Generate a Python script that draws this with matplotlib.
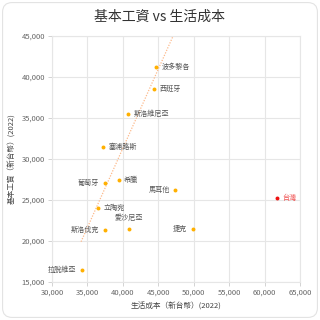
import matplotlib
matplotlib.use('Agg')
import matplotlib.pyplot as plt
from matplotlib.patches import FancyBboxPatch
from matplotlib.ticker import FuncFormatter, MultipleLocator

plt.rcParams['font.family'] = ['Noto Sans CJK TC', 'DejaVu Sans']

# data
countries = ['波多黎各', '西班牙', '斯洛維尼亞', '塞浦路斯', '葡萄牙', '希臘', '馬耳他',
             '台灣', '立陶宛', '愛沙尼亞', '斯洛伐克', '捷克', '拉脫維亞']
living_cost = [44700, 44400, 40700, 37200, 37500, 39400, 47400,
               61700, 36500, 40800, 37500, 49900, 34200]
base_wage = [41200, 38500, 35500, 31400, 27100, 27400, 26200,
             25200, 24000, 21500, 21300, 21500, 16500]
# label side: r = right, l = left, t = top
label_pos = ['r', 'r', 'r', 'r', 'l', 'r', 'l', 'r', 'r', 't', 'l', 'l', 'l']

trend_x = [34100, 47100]
trend_y = [19900, 45000]

fig = plt.figure(figsize=(3.2, 3.2), dpi=100)
card = FancyBboxPatch((0.008, 0.008), 0.984, 0.984, boxstyle='round,pad=0,rounding_size=0.03',
                      transform=fig.transFigure, facecolor='white', edgecolor='#e3e3e3',
                      linewidth=0.8, zorder=-5)
fig.patches.append(card)

ax = fig.add_axes([0.1625, 0.119, 0.775, 0.769])
ax.set_zorder(1)
ax.patch.set_alpha(0)
ax.set_xlim(30000, 65000)
ax.set_ylim(15000, 45000)
ax.xaxis.set_major_locator(MultipleLocator(5000))
ax.yaxis.set_major_locator(MultipleLocator(5000))
fmt = FuncFormatter(lambda v, p: f'{int(v):,}')
ax.xaxis.set_major_formatter(fmt)
ax.yaxis.set_major_formatter(fmt)
ax.grid(True, color='#e6e6e6', linewidth=0.8)
ax.set_axisbelow(True)
for s in ax.spines.values():
    s.set_color('#e6e6e6')
    s.set_linewidth(0.8)
ax.tick_params(length=3, width=0.6, color='#cccccc', labelsize=5.5, labelcolor='#666666', pad=2)

ax.plot(trend_x, trend_y, linestyle=(0, (1, 1.2)), color='#fdb98a', linewidth=0.9, zorder=2)

for name, x, y, pos in zip(countries, living_cost, base_wage, label_pos):
    c = '#ee1111' if name == '台灣' else '#ffb000'
    tc = '#f05050' if name == '台灣' else '#555555'
    ax.scatter([x], [y], s=8, color=c, zorder=3, linewidths=0)
    if pos == 'r':
        ax.annotate(name, (x, y), xytext=(4, 0), textcoords='offset points',
                    ha='left', va='center', fontsize=5.1, color=tc)
    elif pos == 'l':
        ax.annotate(name, (x, y), xytext=(-4, 0), textcoords='offset points',
                    ha='right', va='center', fontsize=5.1, color=tc)
    else:
        ax.annotate(name, (x, y), xytext=(0, 8), textcoords='offset points',
                    ha='center', va='center', fontsize=5.1, color=tc)

ax.set_xlabel('生活成本（新台幣）(2022)', fontsize=5.5, color='#444444', labelpad=4)
ax.set_ylabel('基本工資（新台幣）(2022)', fontsize=5.5, color='#444444', labelpad=4)
fig.text(0.5, 0.948, '基本工資 vs 生活成本', ha='center', va='center', fontsize=10, color='#333333')

fig.savefig('out.png', dpi=100)
